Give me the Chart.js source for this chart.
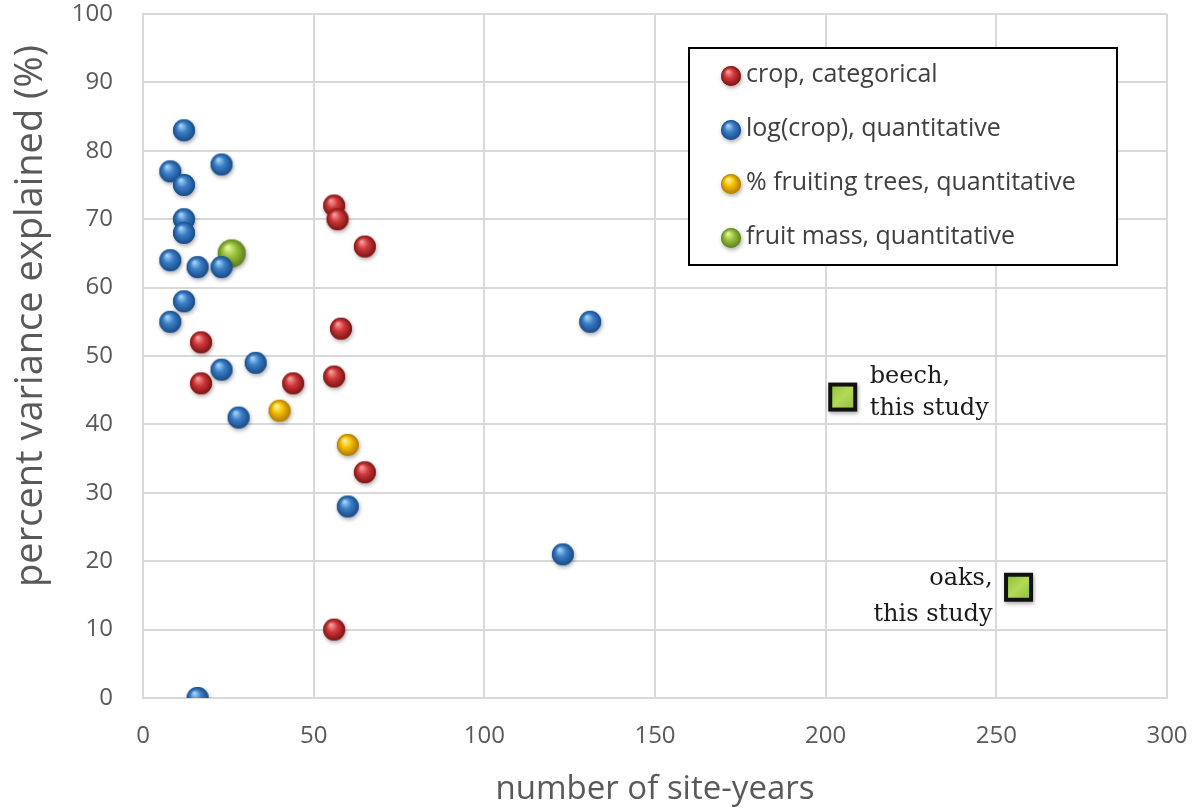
<!DOCTYPE html>
<html><head><meta charset="utf-8">
<script src="https://cdn.jsdelivr.net/npm/chart.js@4"></script>
<style>html,body{margin:0;padding:0;background:#fff}#wrap{width:1192px;height:809px}</style>
</head><body><div id="wrap"><canvas id="c" width="1192" height="809"></canvas></div>
<script>
// ---- data ----
const seriesNames = ["crop, categorical","log(crop), quantitative","% fruiting trees, quantitative","fruit mass, quantitative"];
const redX = [56,57,65,58,17,17,44,56,65,56];
const redY = [72,70,66,54,52,46,46,47,33,10];
const blueX = [12,8,23,12,12,12,8,16,23,12,8,23,33,28,60,131,123,16];
const blueY = [83,77,78,75,70,68,64,63,63,58,55,48,49,41,28,55,21,0];
const yellowX = [40,60];
const yellowY = [42,37];
const greenX = [26];
const greenY = [65];
const studyX = [205,256.5];
const studyY = [44,16.2];
const studyLabels = [["beech,","this study"],["oaks,","this study"]];
const xTicks = [0,50,100,150,200,250,300];
const yTicks = [0,10,20,30,40,50,60,70,80,90,100];
const xTitle = "number of site-years";
const yTitle = "percent variance explained (%)";

function pts(xs, ys){ return xs.map((x,i)=>({x:x,y:ys[i]})); }

function sphere(d, light, mid, dark){
  const pad = 6;
  const s = d + pad*2;
  const c = document.createElement('canvas'); c.width = s; c.height = s;
  const g = c.getContext('2d');
  const cx = s/2, cy = s/2, r = d/2;
  g.save();
  g.shadowColor = 'rgba(0,0,0,0.35)'; g.shadowBlur = 4; g.shadowOffsetX = 1; g.shadowOffsetY = 2;
  g.beginPath(); g.arc(cx, cy, r, 0, Math.PI*2); g.fillStyle = mid; g.fill();
  g.restore();
  const gr = g.createRadialGradient(cx - r*0.3, cy - r*0.45, r*0.05, cx, cy, r);
  gr.addColorStop(0, light); gr.addColorStop(0.45, mid); gr.addColorStop(1, dark);
  g.beginPath(); g.arc(cx, cy, r, 0, Math.PI*2); g.fillStyle = gr; g.fill();
  return c;
}
function square(d){
  const pad = 6, s = d + pad*2;
  const c = document.createElement('canvas'); c.width = s; c.height = s;
  const g = c.getContext('2d');
  const x0 = pad, y0 = pad;
  g.save();
  g.shadowColor = 'rgba(0,0,0,0.35)'; g.shadowBlur = 4; g.shadowOffsetX = 1; g.shadowOffsetY = 2;
  g.fillStyle = '#111'; g.fillRect(x0, y0, d, d);
  g.restore();
  const gr = g.createLinearGradient(x0, y0, x0+d, y0+d);
  gr.addColorStop(0, '#86ba36'); gr.addColorStop(0.5, '#b5d95a'); gr.addColorStop(1, '#86ba36');
  g.fillStyle = gr; g.fillRect(x0+4, y0+4, d-8, d-8);
  return c;
}
const redS = sphere(22, '#f7a0a0', '#d0383a', '#7a1414');
const blueS = sphere(22, '#a8d4f7', '#3a7fc8', '#1a4a84');
const yelS = sphere(22, '#fff6a0', '#f5c000', '#b07800');
const grnS = sphere(28, '#e4f7a0', '#9bc43a', '#5c8020');
const sqS = square(29);
const legS = [sphere(20, '#f7a0a0', '#d0383a', '#7a1414'), sphere(20, '#a8d4f7', '#3a7fc8', '#1a4a84'), sphere(20, '#fff6a0', '#f5c000', '#b07800'), sphere(20, '#e4f7a0', '#9bc43a', '#5c8020')];

const legendPlugin = {
  id: 'boxLegend',
  afterDraw(chart){
    const ctx = chart.ctx;
    ctx.save();
    // y axis title
    ctx.save();
    ctx.translate(31, 316);
    ctx.rotate(-Math.PI/2);
    ctx.font = '38px "Open Sans", sans-serif';
    ctx.fillStyle = '#595959'; ctx.textAlign = 'center'; ctx.textBaseline = 'middle';
    ctx.fillText(yTitle, 0, 0);
    ctx.restore();
    // legend box
    ctx.fillStyle = '#fff';
    ctx.fillRect(689, 48, 428, 217);
    ctx.strokeStyle = '#000'; ctx.lineWidth = 2;
    ctx.strokeRect(689, 48, 428, 217);
    const ys = [76, 130, 184, 238];
    ctx.font = '25px "Open Sans", sans-serif';
    ctx.fillStyle = '#404040'; ctx.textBaseline = 'middle'; ctx.textAlign = 'left';
    seriesNames.forEach((n,i)=>{
      const im = legS[i];
      ctx.drawImage(im, 731 - im.width/2, ys[i] - im.height/2);
      ctx.fillText(n, 746, ys[i] - 1);
    });
    // study annotations
    const xs = chart.scales.x, yS = chart.scales.y;
    ctx.font = '24px "DejaVu Serif", serif';
    ctx.fillStyle = '#1a1a1a';
    ctx.textBaseline = 'alphabetic';
    const p0x = xs.getPixelForValue(studyX[0]), p0y = yS.getPixelForValue(studyY[0]);
    ctx.textAlign = 'left';
    ctx.fillText(studyLabels[0][0], p0x + 27, p0y - 14);
    ctx.fillText(studyLabels[0][1], p0x + 27, p0y + 18);
    const p1x = xs.getPixelForValue(studyX[1]), p1y = yS.getPixelForValue(studyY[1]);
    ctx.textAlign = 'right';
    ctx.fillText(studyLabels[1][0], p1x - 26, p1y - 2);
    ctx.fillText(studyLabels[1][1], p1x - 26, p1y + 34);
    ctx.restore();
  }
};

const ds = (label, data, img) => ({label, data, pointStyle: img, pointRadius: 11, pointHoverRadius: 11, showLine: false, backgroundColor: 'transparent', borderColor: 'transparent'});

new Chart(document.getElementById('c'), {
  type: 'scatter',
  data: { datasets: [
    ds('study', pts(studyX, studyY), sqS),
    ds(seriesNames[0], pts(redX, redY), redS),
    ds(seriesNames[1], pts(blueX, blueY), blueS),
    ds(seriesNames[2], pts(yellowX, yellowY), yelS),
    ds(seriesNames[3], pts(greenX, greenY), grnS)
  ]},
  options: {
    responsive: false, animation: false, events: [],
    layout: { padding: { left: 0, top: 14, right: 25, bottom: 0 } },
    plugins: { legend: { display: false }, tooltip: { enabled: false } },
    scales: {
      x: {
        type: 'linear', min: 0, max: 300,
        afterBuildTicks: s => { s.ticks = xTicks.map(v=>({value:v})); },
        afterFit: s => { s.height = 111; s.paddingLeft = 0; s.paddingRight = 0; },
        grid: { color: '#d9d9d9', lineWidth: 2, drawTicks: false },
        border: { color: '#d9d9d9', width: 2 },
        ticks: { padding: 24, color: '#595959', font: { family: '"Open Sans", sans-serif', size: 24 } },
        title: { display: true, text: xTitle, color: '#595959', padding: { top: 0, bottom: 0 }, font: { family: '"Open Sans", sans-serif', size: 33 } }
      },
      y: {
        type: 'linear', min: 0, max: 100,
        afterBuildTicks: s => { s.ticks = yTicks.map(v=>({value:v})); },
        afterFit: s => { s.width = 143; s.paddingTop = 0; s.paddingBottom = 0; },
        grid: { color: '#d9d9d9', lineWidth: 2, drawTicks: false },
        border: { color: '#d9d9d9', width: 2 },
        ticks: { padding: 30, color: '#595959', font: { family: '"Open Sans", sans-serif', size: 24 } },
        title: { display: false }
      }
    }
  },
  plugins: [legendPlugin]
});
</script>
</body></html>
